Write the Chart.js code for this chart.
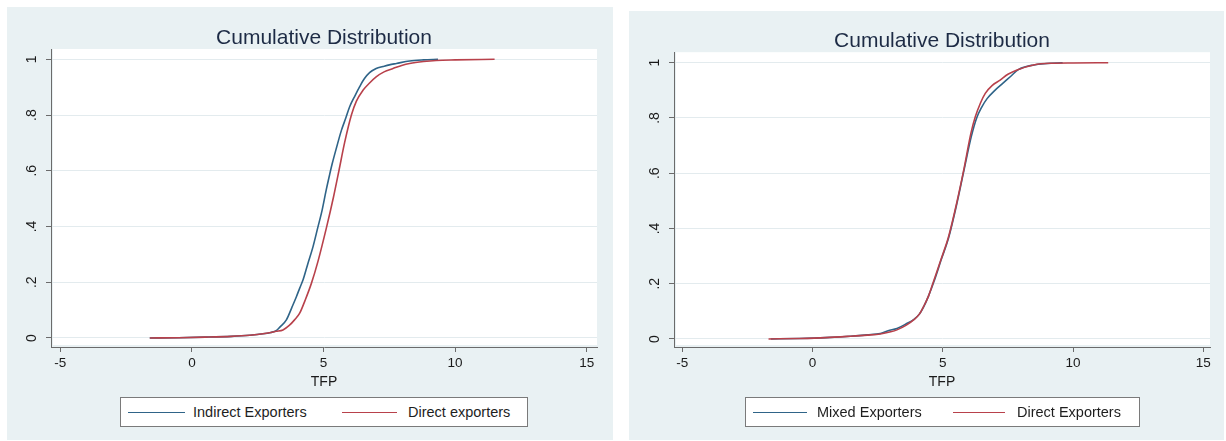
<!DOCTYPE html>
<html>
<head>
<meta charset="utf-8">
<script src="https://cdn.jsdelivr.net/npm/chart.js@4"></script>
<style>
  html, body { margin: 0; padding: 0; background: #fff; }
  body { width: 1226px; height: 441px; position: relative; overflow: hidden;
         font-family: "Liberation Sans", Arial, Helvetica, sans-serif; }
  .panel { position: absolute; background: #e9f1f3; }
  .panel canvas { position: absolute; left: 0; top: 0; }
  .legend { position: absolute; background: #fff; border: 1px solid #7a7a7a; box-sizing: border-box; }
  .key { position: absolute; height: 0; border-top: 1.6px solid; }
  .lab { position: absolute; font-size: 14.5px; line-height: 16px; color: #1e1e1e; white-space: nowrap; }
</style>
</head>
<body>
<div class="panel" style="left:7px;top:7px;width:606px;height:433px;">
  <canvas id="cdfLeft" width="606" height="433"></canvas>
</div>
<div class="panel" style="left:629px;top:11px;width:595px;height:429px;">
  <canvas id="cdfRight" width="595" height="429"></canvas>
</div>

<div class="legend" style="left:120px;top:397px;width:408px;height:30px;"></div>
<div class="key" style="left:128px;top:412px;width:57px;border-color:#2f6488;"></div>
<div class="lab" style="left:193px;top:404px;">Indirect Exporters</div>
<div class="key" style="left:342px;top:412px;width:55px;border-color:#b8414b;"></div>
<div class="lab" style="left:408px;top:404px;">Direct exporters</div>

<div class="legend" style="left:745px;top:397px;width:395px;height:30px;"></div>
<div class="key" style="left:753px;top:412px;width:54px;border-color:#2f6488;"></div>
<div class="lab" style="left:817px;top:404px;">Mixed Exporters</div>
<div class="key" style="left:953px;top:412px;width:52px;border-color:#b8414b;"></div>
<div class="lab" style="left:1017px;top:404px;">Direct Exporters</div>

<script>
// axis ticks shared by both panels
const yTicks = [0, 0.2, 0.4, 0.6, 0.8, 1];
const xTicks = [-5, 0, 5, 10, 15];

// left panel: indirect vs direct exporters
const indirectTfp = [-1.6, -0.5, 0.5, 1.5, 2.2, 2.7, 3.0, 3.2, 3.35, 3.59, 3.8, 3.97, 4.1, 4.22, 4.4, 4.6, 4.78, 4.95, 5.1, 5.23, 5.33, 5.5, 5.68, 5.85, 5.99, 6.2, 6.37, 6.55, 6.75, 7.0, 7.26, 7.5, 7.77, 8.27, 8.8, 9.35];
const indirectCdf = [0, 0.001, 0.003, 0.006, 0.01, 0.015, 0.02, 0.026, 0.04, 0.065, 0.11, 0.148, 0.18, 0.208, 0.265, 0.327, 0.395, 0.46, 0.53, 0.585, 0.625, 0.685, 0.745, 0.79, 0.829, 0.87, 0.901, 0.93, 0.952, 0.967, 0.974, 0.98, 0.985, 0.994, 0.998, 1.0];
const directTfpA = [-1.6, -0.5, 0.5, 1.5, 2.2, 2.7, 3.0, 3.2, 3.46, 3.7, 3.9, 4.09, 4.3, 4.54, 4.79, 5.11, 5.38, 5.59, 5.8, 6.06, 6.25, 6.5, 6.75, 7.0, 7.3, 7.64, 8.0, 8.27, 8.8, 9.28, 10.0, 11.5];
const directCdfA = [0, 0.001, 0.003, 0.006, 0.01, 0.015, 0.02, 0.024, 0.029, 0.045, 0.065, 0.088, 0.135, 0.196, 0.275, 0.395, 0.506, 0.602, 0.7, 0.8, 0.85, 0.889, 0.915, 0.937, 0.955, 0.967, 0.979, 0.985, 0.992, 0.996, 0.998, 1.0];

// right panel: mixed vs direct exporters
const mixedTfp = [-1.6, -0.5, 0.5, 1.45, 2.1, 2.6, 2.9, 3.24, 3.6, 3.88, 4.1, 4.26, 4.45, 4.65, 4.95, 5.22, 5.54, 5.8, 6.1, 6.3, 6.5, 6.7, 7.0, 7.3, 7.6, 7.9, 8.5, 9.0, 9.6];
const mixedCdf = [0, 0.002, 0.005, 0.01, 0.015, 0.02, 0.03, 0.038, 0.055, 0.07, 0.09, 0.115, 0.155, 0.205, 0.29, 0.365, 0.49, 0.605, 0.735, 0.8, 0.84, 0.87, 0.9, 0.925, 0.95, 0.975, 0.992, 0.997, 1.0];
const directTfpB = [-1.69, -0.5, 0.5, 1.45, 2.1, 2.6, 3.0, 3.24, 3.6, 3.88, 4.1, 4.26, 4.45, 4.65, 4.95, 5.22, 5.54, 5.8, 6.08, 6.25, 6.45, 6.63, 6.9, 7.2, 7.5, 7.85, 8.48, 9.12, 10.0, 11.35];
const directCdfB = [0, 0.002, 0.005, 0.01, 0.014, 0.018, 0.026, 0.033, 0.05, 0.069, 0.09, 0.117, 0.155, 0.21, 0.293, 0.37, 0.495, 0.61, 0.745, 0.805, 0.855, 0.889, 0.918, 0.937, 0.958, 0.974, 0.992, 0.998, 0.999, 1.0];

const BLUE = "#2f6488";
const RED = "#b8414b";
const AXIS = "#6b6b6b";

Chart.defaults.font.family = '"Liberation Sans", Arial, Helvetica, sans-serif';

// white plot region, inset a little from the axis lines
const plotBg = {
  id: "plotBg",
  beforeDraw(chart) {
    const { ctx, chartArea: a } = chart;
    ctx.save();
    ctx.fillStyle = "#fff";
    ctx.fillRect(a.left + 2, a.top, a.right - a.left - 2, a.bottom - a.top - 2);
    ctx.restore();
  }
};

function yLabel(v) {
  if (v === 0) return "0";
  if (v === 1) return "1";
  return String(+v.toFixed(1)).replace(/^0/, "");
}

function series(label, tfp, cdf, color, order) {
  return {
    label,
    data: tfp.map((x, i) => ({ x, y: cdf[i] })),
    borderColor: color,
    borderWidth: 1.6,
    pointRadius: 0,
    cubicInterpolationMode: "monotone",
    fill: false,
    order
  };
}

function cdfChart(id, datasets, g) {
  return new Chart(document.getElementById(id), {
    type: "line",
    data: { datasets },
    options: {
      responsive: false,
      animation: false,
      events: [],
      layout: { padding: { top: 0, left: 0, right: g.padRight, bottom: 49 } },
      plugins: {
        legend: { display: false },
        tooltip: { enabled: false },
        title: {
          display: true,
          text: "Cumulative Distribution",
          fullSize: false,
          color: "#1d2b45",
          font: { size: 21, weight: "normal" },
          padding: { top: g.titleTop, bottom: g.titleBottom }
        }
      },
      scales: {
        x: {
          type: "linear",
          min: g.xMin,
          max: g.xMax,
          afterBuildTicks: s => { s.ticks = xTicks.map(value => ({ value })); },
          afterFit: s => { s.height = 44; },
          grid: { drawOnChartArea: false, tickLength: 5, tickColor: AXIS },
          border: { color: AXIS, width: 1 },
          ticks: { color: "#1a1a1a", font: { size: 13.5 }, padding: 3, maxRotation: 0 },
          title: { display: true, text: "TFP", color: "#1a1a1a", font: { size: 14 }, padding: { top: 0, bottom: 0 } }
        },
        y: {
          type: "linear",
          min: g.yMin,
          max: g.yMax,
          afterBuildTicks: s => { s.ticks = yTicks.map(value => ({ value })); },
          afterFit: s => { s.width = g.axisLeft; },
          grid: { color: "#e3ebee", lineWidth: 1, tickLength: 5, tickColor: AXIS },
          border: { color: AXIS, width: 1 },
          ticks: {
            color: "#1a1a1a",
            font: { size: 14 },
            minRotation: 90,
            maxRotation: 90,
            crossAlign: "center",
            padding: 8,
            callback: yLabel
          }
        }
      }
    },
    plugins: [plotBg]
  });
}

cdfChart("cdfLeft", [
  series("Indirect Exporters", indirectTfp, indirectCdf, BLUE, 2),
  series("Direct exporters", directTfpA, directCdfA, RED, 1)
], { xMin: -5.353, xMax: 15.391, yMin: -0.0323, yMax: 1.037, axisLeft: 44, padRight: 16, titleTop: 19, titleBottom: -2.2 });

cdfChart("cdfRight", [
  series("Mixed Exporters", mixedTfp, mixedCdf, BLUE, 2),
  series("Direct Exporters", directTfpB, directCdfB, RED, 1)
], { xMin: -5.319, xMax: 15.257, yMin: -0.029, yMax: 1.038, axisLeft: 45, padRight: 14, titleTop: 18, titleBottom: -2 });
</script>
</body>
</html>
